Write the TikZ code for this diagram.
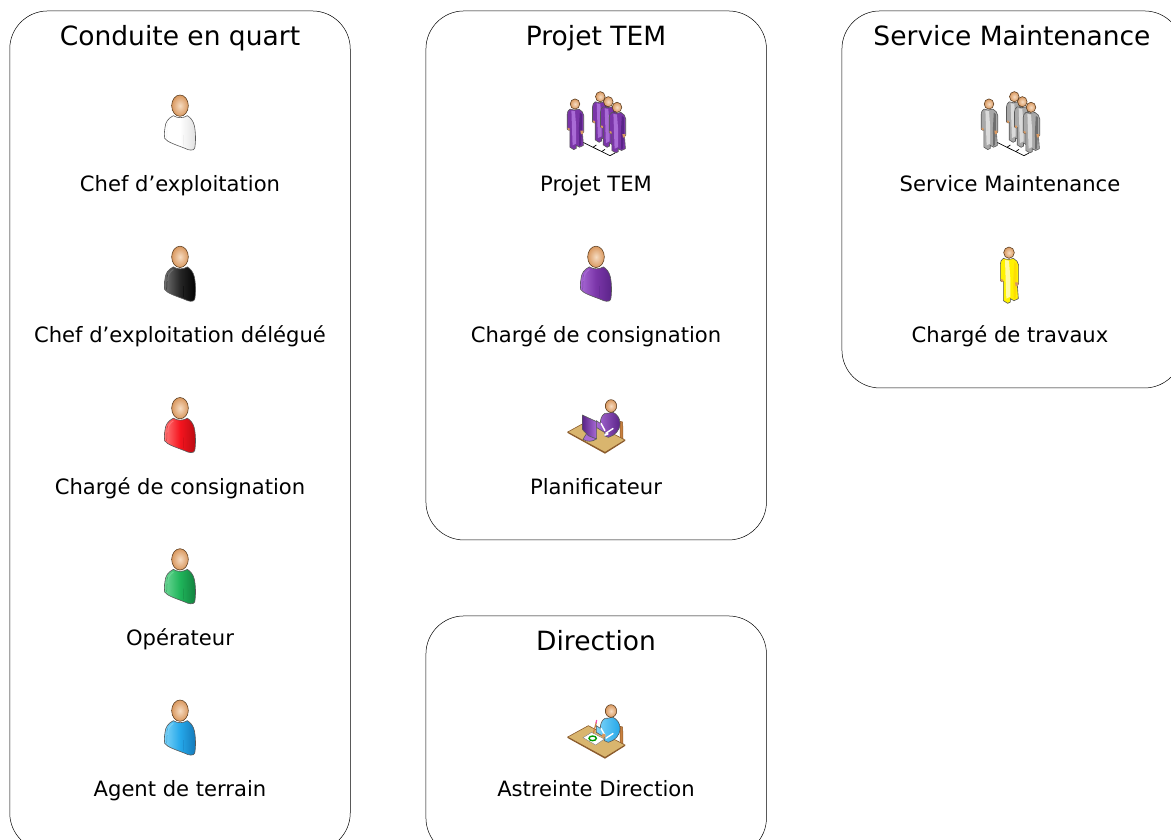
\documentclass[tikz,border=0pt]{standalone}
\usepackage{fontspec}
\setmainfont{DejaVu Sans}
\usetikzlibrary{calc}
\definecolor{pmain}{HTML}{7A35A8}
\definecolor{plight}{HTML}{A96BD6}
\definecolor{pdark}{HTML}{5A2488}
\definecolor{graym}{HTML}{A8A8A8}
\definecolor{grayl}{HTML}{DADADA}
\definecolor{grayd}{HTML}{6E6E6E}
\definecolor{skinin}{HTML}{F6DCC2}
\definecolor{skinout}{HTML}{D9985F}
\definecolor{tabletop}{HTML}{D9B56E}
\definecolor{tableedge}{HTML}{8A5A2B}
\definecolor{chair}{HTML}{C9803F}
\definecolor{gmain}{HTML}{1FB45A}
\definecolor{glight}{HTML}{6FD898}
\definecolor{gdark}{HTML}{12803E}
\definecolor{bmain}{HTML}{25A8EA}
\definecolor{blight}{HTML}{7FD4F8}
\definecolor{bdark}{HTML}{1478B8}
\definecolor{rmain}{HTML}{F5141E}
\definecolor{rlight}{HTML}{FF7A7A}
\definecolor{rdark}{HTML}{B80C12}
\tikzset{
  x=1pt,y=-1pt,
  panel/.style={draw=black,line width=.5pt,rounded corners=38pt,minimum width=340.5pt,inner sep=0pt,anchor=north west},
  paneltitle/.style={font=\fontsize{26.5}{30}\selectfont,anchor=base,inner sep=0pt},
  role/.style={font=\fontsize{21.1}{25}\selectfont,anchor=base,inner sep=0pt},
  skin/.style={draw=black!55!brown,line width=.55pt,inner color=skinin,outer color=skinout},
  edge/.style={draw=black!65,line width=.6pt},
  pics/bust/.style n args={3}{code={
    \path[edge,left color=#1,right color=#3,middle color=#2]
      (100,92) .. controls (84,100) and (76,112) .. (75,128)
      .. controls (73,142) and (72,152) .. (74,160)
      .. controls (82,172) and (110,180) .. (135,190)
      .. controls (146,196) and (160,198) .. (164,190)
      .. controls (168,170) and (167,140) .. (163,122)
      .. controls (160,108) and (152,98) .. (142,92)
      .. controls (130,100) and (112,100) .. (100,92) -- cycle;
    \draw[#3,line width=.5pt,opacity=.55] (82,115) -- (80,160) (130,150) -- (131,182);
    \draw[#1,line width=1pt,opacity=.8] (100,100) .. controls (88,108) and (83,118) .. (83,135);
    \path[skin] (120,62) ellipse[x radius=25,y radius=32];
  }},
  pics/stander/.style n args={3}{code={
    \path[edge,fill=#2]
      (55,55) .. controls (49,60) and (46,64) .. (46,72) -- (46,122)
      .. controls (49,126) and (53,126) .. (55,124) -- (55,165) -- (55,182)
      -- (68,190) -- (76,186) -- (76,176) -- (87,182) -- (100,176) -- (97,135) -- (101,131)
      -- (101,76) .. controls (100,66) and (94,60) .. (85,55)
      .. controls (76,59) and (64,59) .. (55,55) -- cycle;
    \path[fill=#1] (60,60) -- (72,62) -- (76,115) -- (76,170) -- (64,176) -- (62,120) -- cycle;
    \path[fill=#3] (88,66) -- (95,72) -- (95,125) -- (92,175) -- (86,178) -- (85,120) -- cycle;
    \path[fill=skinout] (47,117) -- (54,119) -- (54,126) -- (48,124) -- cycle;
    \path[fill=skinout] (90,127) -- (100,127) -- (99,137) -- (92,139) -- cycle;
    \path[skin] (72,38) ellipse[x radius=16,y radius=17];
  }},
  pics/ground/.style={code={
    \draw[black,line width=.7pt,line join=round] (80,170) -- (165,212) -- (180,204);
    \draw[black,line width=.7pt] (114,187) -- (124,180) (140,200) -- (150,193);
  }},
  pics/desktop/.style={code={
    \path[draw=tableedge,line width=.5pt,fill=chair] (195,94) -- (203,96) -- (204,146) -- (195,150) -- cycle;
    \path[draw=tableedge,line width=.6pt,fill=tabletop]
      (38,126) -- (100,92) -- (210,150) -- (150,187) -- cycle;
    \path[fill=tableedge] (38,126) -- (150,187) -- (210,150) -- (210,153) -- (150,191) -- (38,129) -- cycle;
  }},
  pics/sitter/.style n args={2}{code={
    \path[edge,left color=#1,right color=#2]
      (150,70) .. controls (140,76) and (136,86) .. (136,100) -- (124,92) -- (124,112)
      -- (150,128) -- (148,137) -- (160,142) .. controls (180,136) and (195,122) .. (195,100)
      .. controls (195,84) and (186,72) .. (172,66) .. controls (164,70) and (156,70) .. (150,70) -- cycle;
    \path[draw=white,line width=1.4pt] (138,100) -- (150,122) (175,115) -- (152,130);
    \path[skin] (168,48) ellipse[x radius=17,y radius=19];
  }},
  pics/screen/.style={code={
    \path[edge,fill=plight] (84,148) .. controls (95,156) and (115,156) .. (124,146) -- (112,125) -- (98,125) -- cycle;
    \path[edge,left color=pdark,right color=plight] (82,75) -- (125,95) -- (125,147) -- (100,137) -- (82,118) -- cycle;
    \path[fill=white] (148,132) -- (160,128) -- (160,134) -- (148,138) -- cycle;
  }},
  pics/paper/.style={code={
    \path[draw=black!50,line width=.4pt,fill=white] (84,128) -- (110,112) -- (148,132) -- (122,150) -- cycle;
    \draw[green!60!black,line width=1.4pt] (113,130) ellipse[x radius=11,y radius=7];
    \draw[chair,line width=1.2pt] (115,115) -- (124,82);
    \draw[magenta!70!white,line width=1.2pt] (123,85) -- (125,75);
    \path[fill=skinout] (146,122) circle[radius=6];
  }},
}
\begin{document}
\begin{tikzpicture}
\useasboundingbox (0,0) rectangle (1171,839);
\clip (0,0) rectangle (1171,839);
% panels
\node[panel,minimum height=840pt] (pconduite) at (9.5,10.7) {};
\node[panel,minimum height=529pt] (pprojet) at (425.7,10.7) {};
\node[panel,minimum height=377pt] (pservice) at (841.7,10.7) {};
\node[panel,minimum height=240pt] (pdirection) at (425.7,615.7) {};
% titles
\node[paneltitle] (tconduite) at (180,45) {Conduite en quart};
\node[paneltitle] (tprojet) at (596,45) {Projet TEM};
\node[paneltitle] (tservice) at (1012,45) {Service Maintenance};
\node[paneltitle] (tdirection) at (596,650) {Direction};
% roles
\node[role] (r1) at (180,191.5) {Chef d’exploitation};
\node[role] (r2) at (180,342.5) {Chef d’exploitation délégué};
\node[role] (r3) at (180,494) {Chargé de consignation};
\node[role] (r4) at (180,645) {Opérateur};
\node[role] (r5) at (180,796.5) {Agent de terrain};
\node[role] (r6) at (596,191.5) {Projet TEM};
\node[role] (r7) at (596,342.5) {Chargé de consignation};
\node[role] (r8) at (596,494) {Planificateur};
\node[role] (r9) at (596,796.5) {Astreinte Direction};
\node[role] (r10) at (1010,191.5) {Service Maintenance};
\node[role] (r11) at (1010,342.5) {Chargé de travaux};
% busts
\pic[scale=1/3] at (140,85) {bust={white}{white}{black!12}};
\pic[scale=1/3] at (140,236.2) {bust={black!55}{black!85}{black}};
\pic[scale=1/3] at (140,387.5) {bust={rlight}{rmain}{rdark}};
\pic[scale=1/3] at (140,538.7) {bust={glight}{gmain}{gdark}};
\pic[scale=1/3] at (140,690) {bust={blight}{bmain}{bdark}};
\pic[scale=1/3] at (556,236.2) {bust={plight}{pmain}{pdark}};
% yellow person
\pic[scale=1/3] at (985,240) {stander={yellow!35!white}{yellow}{yellow!80!orange}};
% purple group
\pic[scale=1/3] at (555,85) {ground};
\pic[scale=.3] at (553.4,92.6) {stander={plight}{pmain}{pdark}};
\pic[scale=.3] at (578.7,85.3) {stander={plight}{pmain}{pdark}};
\pic[scale=.3] at (586.7,90.3) {stander={plight}{pmain}{pdark}};
\pic[scale=.3] at (595.4,95.9) {stander={plight}{pmain}{pdark}};
% gray group
\pic[scale=1/3] at (969,85) {ground};
\pic[scale=.3] at (967.4,92.6) {stander={grayl}{graym}{grayd}};
\pic[scale=.3] at (992.7,85.3) {stander={grayl}{graym}{grayd}};
\pic[scale=.3] at (1000.7,90.3) {stander={grayl}{graym}{grayd}};
\pic[scale=.3] at (1009.4,95.9) {stander={grayl}{graym}{grayd}};
% planner
\pic[scale=1/3] at (555,390) {desktop};
\pic[scale=1/3] at (555,390) {sitter={plight}{pdark}};
\pic[scale=1/3] at (555,390) {screen};
% on-call
\pic[scale=1/3] at (555,695) {desktop};
\pic[scale=1/3] at (555,695) {sitter={blight}{bmain}};
\pic[scale=1/3] at (555,695) {paper};
\end{tikzpicture}
\end{document}
